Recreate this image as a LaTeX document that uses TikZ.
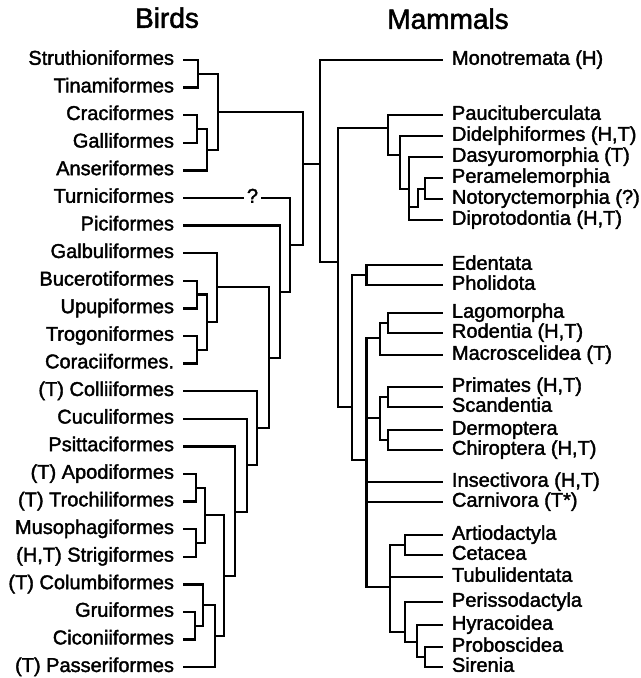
\documentclass[tikz,border=0pt]{standalone}
\usepackage{fontspec}
\setmainfont{Liberation Sans}
\newfontfamily\labfont{Liberation Sans}[FakeBold=1.8]
\begin{document}
\begin{tikzpicture}[x=0.75pt,y=-0.75pt,
  br/.style={line width=1.8pt,line cap=rect,line join=miter},
  bl/.style={anchor=east,inner xsep=0pt,inner ysep=0pt,outer xsep=7.5pt,outer ysep=0pt,
    text height=0.716em,text depth=0pt,font=\labfont\fontsize{15pt}{17pt}\selectfont},
  ml/.style={anchor=west,inner xsep=0pt,inner ysep=0pt,outer xsep=7.5pt,outer ysep=0pt,
    text height=0.716em,text depth=0pt,font=\labfont\fontsize{15pt}{17pt}\selectfont},
  ttl/.style={font=\labfont\fontsize{21pt}{24pt}\selectfont,inner sep=0pt,text height=0.716em,text depth=0pt}]
\useasboundingbox (0,0) rectangle (641,678);
% titles
\node[ttl] (tb) at (167,23) {Birds};
\node[ttl] (tm) at (448,24) {Mammals};
% bird labels
\node[bl] (b1) at (184,60.0) {Struthioniformes};
\node[bl] (b2) at (184,87.6) {Tinamiformes};
\node[bl] (b3) at (184,115.2) {Craciformes};
\node[bl] (b4) at (184,142.8) {Galliformes};
\node[bl] (b5) at (184,170.4) {Anseriformes};
\node[bl] (b6) at (184,198.0) {Turniciformes};
\node[bl] (b7) at (184,225.6) {Piciformes};
\node[bl] (b8) at (184,253.2) {Galbuliformes};
\node[bl] (b9) at (184,280.8) {Bucerotiformes};
\node[bl] (b10) at (184,308.4) {Upupiformes};
\node[bl] (b11) at (184,336.0) {Trogoniformes};
\node[bl] (b12) at (184,363.6) {Coraciiformes.};
\node[bl] (b13) at (184,391.2) {(T) Colliiformes};
\node[bl] (b14) at (184,418.8) {Cuculiformes};
\node[bl] (b15) at (184,446.4) {Psittaciformes};
\node[bl] (b16) at (184,474.0) {(T) Apodiformes};
\node[bl] (b17) at (184,501.6) {(T) Trochiliformes};
\node[bl] (b18) at (184,529.2) {Musophagiformes};
\node[bl] (b19) at (184,556.8) {(H,T) Strigiformes};
\node[bl] (b20) at (184,584.4) {(T) Columbiformes};
\node[bl] (b21) at (184,612.0) {Gruiformes};
\node[bl] (b22) at (184,639.6) {Ciconiiformes};
\node[bl] (b23) at (184,667.2) {(T) Passeriformes};
\node[inner xsep=3pt,inner ysep=0pt,text height=0.716em,text depth=0pt,font=\labfont\fontsize{15pt}{17pt}\selectfont] (q) at (252.5,198) {?};
% mammal labels
\node[ml] (m1) at (442,60) {Monotremata (H)};
\node[ml] (m2) at (442,115) {Paucituberculata};
\node[ml] (m3) at (442,136) {Didelphiformes (H,T)};
\node[ml] (m4) at (442,157) {Dasyuromorphia (T)};
\node[ml] (m5) at (442,178) {Peramelemorphia};
\node[ml] (m6) at (442,199) {Notoryctemorphia (?)};
\node[ml] (m7) at (442,220) {Diprotodontia (H,T)};
\node[ml] (m8) at (442,265) {Edentata};
\node[ml] (m9) at (442,285) {Pholidota};
\node[ml] (m10) at (442,313) {Lagomorpha};
\node[ml] (m11) at (442,333) {Rodentia (H,T)};
\node[ml] (m12) at (442,355) {Macroscelidea (T)};
\node[ml] (m13) at (442,387) {Primates (H,T)};
\node[ml] (m14) at (442,407) {Scandentia};
\node[ml] (m15) at (442,430) {Dermoptera};
\node[ml] (m16) at (442,450) {Chiroptera (H,T)};
\node[ml] (m17) at (442,482) {Insectivora (H,T)};
\node[ml] (m18) at (442,502) {Carnivora (T*)};
\node[ml] (m19) at (442,535) {Artiodactyla};
\node[ml] (m20) at (442,555) {Cetacea};
\node[ml] (m21) at (442,577) {Tubulidentata};
\node[ml] (m22) at (442,602) {Perissodactyla};
\node[ml] (m23) at (442,625) {Hyracoidea};
\node[ml] (m24) at (442,647) {Proboscidea};
\node[ml] (m25) at (442,667) {Sirenia};
% bird junctions
\coordinate (j12) at (198,73.8);
\coordinate (j34) at (197,129);
\coordinate (j345) at (207,150);
\coordinate (jGal) at (218,112);
\coordinate (jPal) at (303,164);
\coordinate (jA) at (290,245);
\coordinate (jB) at (280,292);
\coordinate (jC) at (269,358);
\coordinate (jD) at (217,287);
\coordinate (jE) at (207,322);
\coordinate (jF) at (197,294.6);
\coordinate (jG) at (197,349.8);
\coordinate (jCol) at (257,428);
\coordinate (jCu) at (247,465);
\coordinate (jPs) at (235,512);
\coordinate (jH) at (224,576);
\coordinate (jI) at (205,515);
\coordinate (jK) at (196,487.8);
\coordinate (jL) at (196,543);
\coordinate (jJ) at (215,636);
\coordinate (jM) at (203,605);
\coordinate (jN) at (195,625.8);
% mammal junctions
\coordinate (jRoot) at (320,164);
\coordinate (jTh) at (338,262);
\coordinate (jMars) at (388,128);
\coordinate (jM2) at (400,155);
\coordinate (jM3) at (409,189);
\coordinate (jM4) at (425,189);
\coordinate (jStep) at (418,207);
\coordinate (jEu) at (352,407);
\coordinate (jXP) at (366.5,275);
\coordinate (jRest) at (366.5,460);
\coordinate (jGl) at (380,338);
\coordinate (jLR) at (388,323);
\coordinate (jAr) at (380,418);
\coordinate (jPS) at (388,397);
\coordinate (jDC) at (388,440);
\coordinate (jUng) at (390,587);
\coordinate (jAC) at (405,545);
\coordinate (jPH) at (405,632);
\coordinate (jHPS) at (417,642);
\coordinate (jPS2) at (425,657);
% bird tree
\draw[br] (b1.east) -| (j12) |- (b2.east);
\draw[br] (b3.east) -| (j34) |- (b4.east);
\draw[br] (j34) -| (j345) |- (b5.east);
\draw[br] (j12) -| (jGal) |- (j345);
\draw[br] (jGal) -| (jPal) |- (jA);
\draw[br] (b6.east) -- (q.west);
\draw[br] (q.east) -| (jA) |- (jB);
\draw[br] (b7.east) -| (jB) |- (jC);
\draw[br] (jD) -| (jC) |- (jCol);
\draw[br] (b8.east) -| (jD) |- (jE);
\draw[br] (jF) -| (jE) |- (jG);
\draw[br] (b9.east) -| (jF) |- (b10.east);
\draw[br] (b11.east) -| (jG) |- (b12.east);
\draw[br] (b13.east) -| (jCol) |- (jCu);
\draw[br] (b14.east) -| (jCu) |- (jPs);
\draw[br] (b15.east) -| (jPs) |- (jH);
\draw[br] (jI) -| (jH) |- (jJ);
\draw[br] (jK) -| (jI) |- (jL);
\draw[br] (b16.east) -| (jK) |- (b17.east);
\draw[br] (b18.east) -| (jL) |- (b19.east);
\draw[br] (jM) -| (jJ) |- (b23.east);
\draw[br] (b20.east) -| (jM) |- (jN);
\draw[br] (b21.east) -| (jN) |- (b22.east);
% root
\draw[br] (jPal) -- (jRoot);
\draw[br] (m1.west) -| (jRoot) |- (jTh);
% mammal tree
\draw[br] (jMars) -| (jTh) |- (jEu);
\draw[br] (m2.west) -| (jMars) |- (jM2);
\draw[br] (m3.west) -| (jM2) |- (jM3);
\draw[br] (m4.west) -| (jM3) |- (m7.west);
\draw[br] (m5.west) -| (jM4) |- (m6.west);
\draw[br] (jM4) -| (jStep) -- (jStep -| jM3);
\draw[br] (jXP) -| (jEu) |- (jRest);
\draw[br] (m8.west) -| (jXP) |- (m9.west);
\draw[br] (jGl) -| (jRest) |- (jUng);
\draw[br] (jLR) -| (jGl) |- (m12.west);
\draw[br] (m10.west) -| (jLR) |- (m11.west);
\draw[br] (jAr) -- (jAr -| jRest);
\draw[br] (jPS) -| (jAr) |- (jDC);
\draw[br] (m13.west) -| (jPS) |- (m14.west);
\draw[br] (m15.west) -| (jDC) |- (m16.west);
\draw[br] (m17.west) -- (m17.west -| jRest);
\draw[br] (m18.west) -- (m18.west -| jRest);
\draw[br] (jAC) -| (jUng) |- (jPH);
\draw[br] (m21.west) -- (m21.west -| jUng);
\draw[br] (m19.west) -| (jAC) |- (m20.west);
\draw[br] (m22.west) -| (jPH) |- (jHPS);
\draw[br] (m23.west) -| (jHPS) |- (jPS2);
\draw[br] (m24.west) -| (jPS2) |- (m25.west);
\end{tikzpicture}
\end{document}
